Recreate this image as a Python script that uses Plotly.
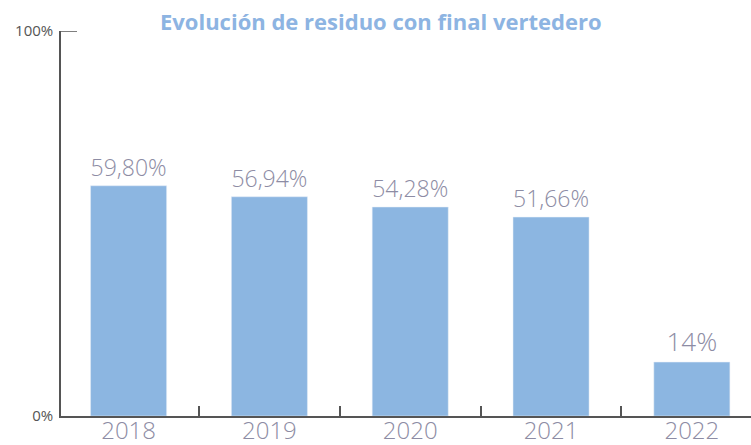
import plotly.graph_objects as go

years = ["2018", "2019", "2020", "2021", "2022"]
values = [59.80, 56.94, 54.28, 51.66, 14.0]
labels = ["59,80%", "56,94%", "54,28%", "51,66%", "14%"]
title = "Evolución de residuo con final vertedero"

GRAY_TXT = "#8d8ca4"
AXIS = "#555555"

fig = go.Figure(go.Bar(
    x=years, y=values, text=labels, textposition="outside",
    marker_color="#8cb6e1", width=0.54, cliponaxis=False,
    textfont=dict(family="Open Sans", size=26, color=GRAY_TXT, weight=300),
    hoverinfo="skip",
))

fig.update_layout(
    width=751, height=445,
    margin=dict(l=61, r=0, t=31, b=29, autoexpand=False),
    plot_bgcolor="white", paper_bgcolor="white",
    showlegend=False,
    title=dict(text=title, x=0.507, xanchor="center", y=0.95, yanchor="middle",
               font=dict(family="Open Sans", size=22, color="#8db4e2", weight=700)),
    shapes=[dict(type="line", xref="paper", yref="y", x0=0, x1=16 / 690, y0=100, y1=100,
                 line=dict(color=AXIS, width=1.5))],
)
fig.update_xaxes(
    type="category", range=[-0.48, 4.42], automargin=False,
    showline=True, linecolor=AXIS, linewidth=1.5,
    ticks="inside", tickson="boundaries", ticklen=10, tickcolor=AXIS, tickwidth=1.5,
    tickfont=dict(family="Open Sans", size=24, color=GRAY_TXT, weight=300),
    ticklabelstandoff=-8,
    showgrid=False,
)
fig.update_yaxes(
    range=[0, 100], tickvals=[0, 100], ticktext=["0%", "100%"], automargin=False,
    showline=True, linecolor=AXIS, linewidth=1.5,
    ticks="", ticklabelstandoff=3,
    tickfont=dict(family="Open Sans", size=15, color="#555555"),
    showgrid=False, zeroline=False,
)

fig.write_html("out.html")
